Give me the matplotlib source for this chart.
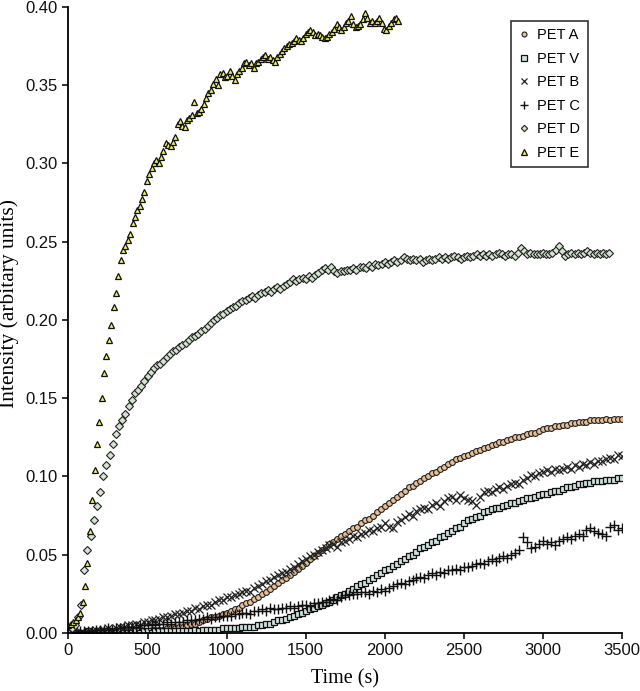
import numpy as np
import matplotlib
matplotlib.use("Agg")
import matplotlib.pyplot as plt

# ---- data ----
t_grid = np.arange(0, 3501, 25)          # sampling times for PET A, V, B, C

pet_a = [0.000, 0.000, 0.001, 0.000, 0.000, 0.001, 0.000, 0.000, 0.001, 0.000, 0.000, 0.001, 0.000, 0.001, 0.000, 0.001,
         0.001, 0.001, 0.001, 0.001, 0.001, 0.002, 0.002, 0.002, 0.002, 0.003, 0.003, 0.003, 0.004,
         0.004, 0.005, 0.006, 0.006, 0.007, 0.008, 0.009, 0.010, 0.010, 0.011, 0.012, 0.013,
         0.014, 0.015, 0.016, 0.018, 0.019, 0.020, 0.022, 0.023, 0.025, 0.026, 0.028, 0.030,
         0.032, 0.034, 0.035, 0.037, 0.039, 0.041, 0.043, 0.045, 0.047, 0.049, 0.051, 0.053,
         0.055, 0.057, 0.058, 0.060, 0.062, 0.063, 0.065, 0.067, 0.068, 0.070, 0.072, 0.073,
         0.075, 0.077, 0.079, 0.081, 0.083, 0.085, 0.087, 0.089, 0.091, 0.093, 0.094, 0.096,
         0.097, 0.099, 0.100, 0.102, 0.103, 0.105, 0.106, 0.108, 0.109, 0.111, 0.112, 0.113,
         0.114, 0.115, 0.116, 0.117, 0.118, 0.119, 0.120, 0.121, 0.122, 0.122, 0.123, 0.124,
         0.125, 0.125, 0.126, 0.127, 0.128, 0.128, 0.129, 0.130, 0.131, 0.131, 0.132, 0.132,
         0.133, 0.133, 0.134, 0.134, 0.135, 0.135, 0.135, 0.136, 0.136, 0.136, 0.136, 0.137,
         0.136, 0.137, 0.137, 0.137]

pet_v = [0.000, 0.001, 0.000, 0.000, 0.000, 0.001, 0.000, 0.000, 0.000, 0.001, 0.000, 0.000, 0.000, 0.001, 0.000, 0.000,
         0.000, 0.001, 0.000, 0.001, 0.001, 0.000, 0.001, 0.001, 0.001, 0.001, 0.001, 0.001, 0.001,
         0.001, 0.001, 0.001, 0.002, 0.001, 0.002, 0.002, 0.002, 0.002, 0.002, 0.003, 0.003,
         0.003, 0.003, 0.003, 0.004, 0.004, 0.004, 0.004, 0.005, 0.005, 0.006, 0.006, 0.007,
         0.008, 0.008, 0.009, 0.010, 0.011, 0.012, 0.013, 0.014, 0.015, 0.016, 0.017, 0.018,
         0.019, 0.020, 0.021, 0.023, 0.024, 0.025, 0.027, 0.028, 0.030, 0.031, 0.032, 0.034,
         0.035, 0.037, 0.038, 0.040, 0.041, 0.043, 0.044, 0.046, 0.047, 0.049, 0.050, 0.052,
         0.054, 0.055, 0.056, 0.058, 0.059, 0.061, 0.062, 0.064, 0.065, 0.067, 0.068, 0.070,
         0.072, 0.073, 0.074, 0.075, 0.077, 0.078, 0.079, 0.080, 0.080, 0.081, 0.082, 0.083,
         0.083, 0.084, 0.085, 0.086, 0.086, 0.087, 0.088, 0.089, 0.089, 0.090, 0.091, 0.091,
         0.092, 0.093, 0.093, 0.094, 0.095, 0.095, 0.096, 0.096, 0.097, 0.097, 0.097, 0.098,
         0.098, 0.098, 0.099, 0.099]

pet_b = [0.000, 0.000, 0.000, 0.000, 0.000, 0.001, 0.001, 0.002, 0.001, 0.002, 0.003, 0.002, 0.003, 0.004, 0.004, 0.005,
         0.005, 0.006, 0.005, 0.007, 0.007, 0.008, 0.008, 0.009, 0.010, 0.010, 0.011, 0.012, 0.012,
         0.013, 0.014, 0.014, 0.016, 0.015, 0.017, 0.018, 0.018, 0.020, 0.021, 0.021, 0.023,
         0.023, 0.024, 0.025, 0.026, 0.027, 0.026, 0.029, 0.030, 0.031, 0.033, 0.034, 0.036,
         0.037, 0.038, 0.039, 0.041, 0.042, 0.044, 0.046, 0.047, 0.049, 0.050, 0.052, 0.053,
         0.054, 0.056, 0.057, 0.055, 0.058, 0.059, 0.060, 0.062, 0.061, 0.063, 0.064, 0.066,
         0.065, 0.067, 0.068, 0.070, 0.068, 0.067, 0.071, 0.072, 0.074, 0.076, 0.075, 0.078,
         0.079, 0.080, 0.079, 0.082, 0.083, 0.081, 0.084, 0.086, 0.087, 0.085, 0.088, 0.086,
         0.085, 0.084, 0.082, 0.087, 0.090, 0.091, 0.090, 0.092, 0.093, 0.092, 0.094, 0.095,
         0.096, 0.095, 0.098, 0.099, 0.101, 0.100, 0.102, 0.103, 0.104, 0.103, 0.105, 0.104,
         0.105, 0.106, 0.105, 0.107, 0.106, 0.108, 0.107, 0.109, 0.108, 0.110, 0.110, 0.111,
         0.112, 0.111, 0.114, 0.113]

pet_c = [0.000, 0.000, 0.000, 0.001, 0.001, 0.001, 0.001, 0.002, 0.002, 0.002, 0.003, 0.002, 0.003, 0.003, 0.004, 0.004,
         0.004, 0.004, 0.005, 0.005, 0.005, 0.006, 0.005, 0.006, 0.006, 0.007, 0.006, 0.007, 0.007,
         0.007, 0.008, 0.008, 0.008, 0.009, 0.009, 0.010, 0.009, 0.010, 0.010, 0.011, 0.011,
         0.011, 0.012, 0.012, 0.013, 0.013, 0.012, 0.014, 0.014, 0.015, 0.014, 0.016, 0.015,
         0.015, 0.016, 0.016, 0.017, 0.016, 0.017, 0.018, 0.018, 0.017, 0.019, 0.019, 0.020,
         0.020, 0.021, 0.022, 0.021, 0.023, 0.024, 0.024, 0.025, 0.025, 0.026, 0.026, 0.025,
         0.027, 0.026, 0.028, 0.027, 0.029, 0.030, 0.031, 0.032, 0.031, 0.033, 0.034, 0.035,
         0.036, 0.035, 0.037, 0.038, 0.037, 0.039, 0.038, 0.040, 0.040, 0.041, 0.040, 0.042,
         0.042, 0.043, 0.044, 0.045, 0.044, 0.046, 0.047, 0.046, 0.048, 0.049, 0.048, 0.050,
         0.051, 0.053, 0.061, 0.058, 0.054, 0.055, 0.057, 0.059, 0.057, 0.058, 0.056, 0.059,
         0.060, 0.061, 0.060, 0.062, 0.063, 0.062, 0.066, 0.067, 0.065, 0.064, 0.063, 0.062,
         0.068, 0.069, 0.066, 0.067]

t_d = np.arange(0, 3421, 20)             # sampling times for PET D
pet_d = [0.000, 0.003, 0.005, 0.010, 0.018, 0.040, 0.053, 0.062, 0.072, 0.081,
         0.090, 0.100, 0.107, 0.114, 0.121, 0.127, 0.132, 0.136, 0.140, 0.145,
         0.149, 0.153, 0.155, 0.158, 0.161, 0.164, 0.167, 0.169, 0.171, 0.172,
         0.174, 0.176, 0.178, 0.180, 0.181, 0.183, 0.184, 0.185, 0.187, 0.189,
         0.190, 0.191, 0.193, 0.194, 0.196, 0.198, 0.200, 0.201, 0.203, 0.204,
         0.206, 0.207, 0.208, 0.209, 0.211, 0.212, 0.213, 0.214, 0.215, 0.214,
         0.216, 0.217, 0.218, 0.219, 0.218, 0.220, 0.221, 0.220, 0.222, 0.223,
         0.224, 0.226, 0.225, 0.226, 0.227, 0.226, 0.228, 0.227, 0.229, 0.230,
         0.232, 0.233, 0.232, 0.234, 0.231, 0.230, 0.231, 0.231, 0.232, 0.232,
         0.233, 0.232, 0.234, 0.234, 0.233, 0.235, 0.234, 0.236, 0.235, 0.236,
         0.237, 0.236, 0.237, 0.238, 0.237, 0.238, 0.240, 0.239, 0.238, 0.239,
         0.238, 0.239, 0.237, 0.238, 0.239, 0.238, 0.239, 0.240, 0.239, 0.240,
         0.239, 0.240, 0.241, 0.240, 0.239, 0.240, 0.241, 0.240, 0.241, 0.242,
         0.241, 0.242, 0.241, 0.242, 0.241, 0.242, 0.243, 0.242, 0.241, 0.242,
         0.242, 0.241, 0.243, 0.246, 0.244, 0.242, 0.243, 0.242, 0.242, 0.242,
         0.243, 0.242, 0.242, 0.243, 0.245, 0.247, 0.244, 0.241, 0.242, 0.243,
         0.242, 0.243, 0.242, 0.243, 0.244, 0.243, 0.242, 0.243, 0.242, 0.243,
         0.242, 0.243]

t_e = np.arange(0, 2086, 15)             # sampling times for PET E
pet_e = [0.005, 0.006, 0.007, 0.008, 0.010, 0.013, 0.020, 0.030, 0.045, 0.065,
         0.085, 0.104, 0.121, 0.135, 0.150, 0.166, 0.177, 0.187, 0.197, 0.208,
         0.217, 0.228, 0.238, 0.245, 0.247, 0.251, 0.255, 0.262, 0.266, 0.270,
         0.273, 0.277, 0.282, 0.289, 0.293, 0.297, 0.300, 0.302, 0.300, 0.304,
         0.308, 0.313, 0.312, 0.311, 0.314, 0.317, 0.325, 0.327, 0.324, 0.323,
         0.328, 0.329, 0.331, 0.339, 0.332, 0.333, 0.335, 0.338, 0.342, 0.345,
         0.347, 0.351, 0.354, 0.350, 0.357, 0.358, 0.355, 0.356, 0.359, 0.356,
         0.353, 0.357, 0.359, 0.361, 0.364, 0.365, 0.363, 0.364, 0.361, 0.364,
         0.365, 0.367, 0.368, 0.369, 0.367, 0.368, 0.366, 0.365, 0.368, 0.370,
         0.372, 0.374, 0.375, 0.376, 0.377, 0.378, 0.380, 0.379, 0.378, 0.380,
         0.383, 0.384, 0.385, 0.384, 0.382, 0.383, 0.382, 0.381, 0.380, 0.381,
         0.383, 0.384, 0.386, 0.389, 0.387, 0.385, 0.387, 0.390, 0.391, 0.394,
         0.389, 0.387, 0.388, 0.389, 0.392, 0.396, 0.393, 0.390, 0.391, 0.390,
         0.391, 0.393, 0.390, 0.386, 0.385, 0.388, 0.390, 0.392, 0.393, 0.391]

labels = ["PET A", "PET V", "PET B", "PET C", "PET D", "PET E"]
x_ticks = [0, 500, 1000, 1500, 2000, 2500, 3000, 3500]
y_ticks = [0.00, 0.05, 0.10, 0.15, 0.20, 0.25, 0.30, 0.35, 0.40]

# ---- figure ----
fig = plt.figure(figsize=(6.40, 6.91), dpi=100)
ax = fig.add_axes([0.107, 0.084, 0.865, 0.906])

ax.plot(t_grid, pet_a, linestyle="none", marker="o", markersize=4.2,
        markerfacecolor="#e6bf97", markeredgecolor="#222222", markeredgewidth=0.8, label=labels[0])
ax.plot(t_grid, pet_v, linestyle="none", marker="s", markersize=4.6,
        markerfacecolor="#cfe3de", markeredgecolor="#111111", markeredgewidth=0.9, label=labels[1])
ax.plot(t_grid, pet_b, linestyle="none", marker="x", markersize=5.5,
        color="#222222", markeredgewidth=0.9, label=labels[2])
ax.plot(t_grid, pet_c, linestyle="none", marker="+", markersize=6.5,
        color="#111111", markeredgewidth=1.0, label=labels[3])
ax.plot(t_d, pet_d, linestyle="none", marker="D", markersize=3.8,
        markerfacecolor="#d3e5cf", markeredgecolor="#222222", markeredgewidth=0.8, label=labels[4])
ax.plot(t_e, pet_e, linestyle="none", marker="^", markersize=5.0,
        markerfacecolor="#eded6a", markeredgecolor="#111111", markeredgewidth=0.9, label=labels[5])

ax.set_xlim(0, 3500)
ax.set_ylim(0, 0.40)
ax.set_xticks(x_ticks)
ax.set_yticks(y_ticks)
ax.set_yticklabels([f"{v:.2f}" for v in y_ticks])
ax.set_xticklabels([str(v) for v in x_ticks])

for s in ["top", "right"]:
    ax.spines[s].set_visible(False)
for s in ["left", "bottom"]:
    ax.spines[s].set_linewidth(1.3)

ax.tick_params(axis="both", direction="out", length=4, width=1.2, labelsize=12,
               colors="#111111")
for lab in ax.get_xticklabels() + ax.get_yticklabels():
    lab.set_fontfamily("Liberation Sans")

ax.set_xlabel("Time (s)", fontfamily="Liberation Serif", fontsize=14.5)
ax.set_ylabel("Intensity (arbitary units)", fontfamily="Liberation Serif", fontsize=15.5)
ax.xaxis.set_label_coords(0.5, -0.058)
ax.yaxis.set_label_coords(-0.090, 0.526)

leg = ax.legend(loc="upper left", bbox_to_anchor=(0.7995, 0.9776), frameon=True, fancybox=False,
                prop={"family": "Liberation Sans", "size": 10.5}, handlelength=0.8,
                handletextpad=0.5, labelspacing=0.65, borderpad=0.5, borderaxespad=0.0,
                markerscale=0.85)
leg.get_frame().set_edgecolor("black")
leg.get_frame().set_linewidth(1.2)

fig.savefig("out.png", dpi=100)
